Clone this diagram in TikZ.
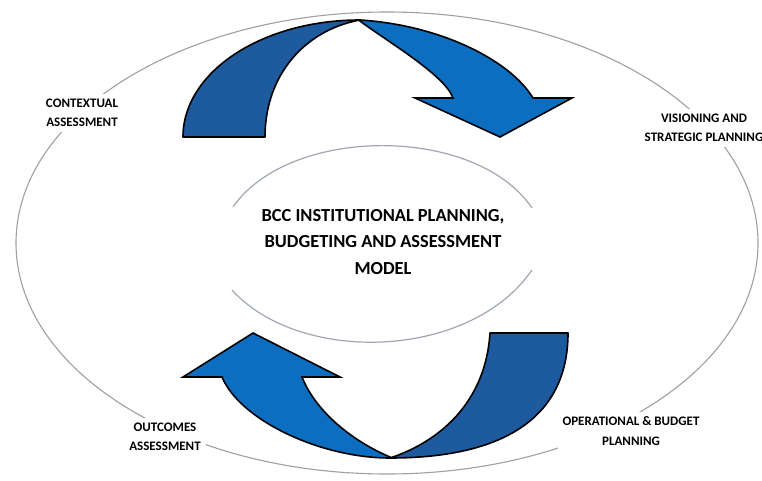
\documentclass[tikz,border=0pt]{standalone}
\usepackage{fontspec}
\setmainfont{Carlito}
\definecolor{arrowdark}{RGB}{30,90,158}
\definecolor{arrowlight}{RGB}{12,110,192}
\definecolor{ringgray}{RGB}{160,160,160}
\definecolor{innergray}{RGB}{160,166,178}
\tikzset{
  ring/.style={draw=ringgray, line width=1.1pt},
  innerarc/.style={draw=innergray, line width=1.2pt},
  bandDark/.style={fill=arrowdark, draw=black, line width=1.6pt, line join=round},
  bandLight/.style={fill=arrowlight, draw=black, line width=1.6pt, line join=miter},
  lbl/.style={fill=white, align=center, inner sep=5pt, font=\bfseries\fontsize{13}{19.5}\selectfont},
  titlelbl/.style={align=center, inner sep=2pt, font=\bfseries\fontsize{18.4}{26.5}\selectfont}
}
\begin{document}
\begin{tikzpicture}[x=1pt,y=-1pt]
\useasboundingbox (0,0) rectangle (762,481);
\fill[white] (0,0) rectangle (762,481);
% outer ring
\draw[ring] (387,243) ellipse [x radius=371pt, y radius=231pt];
% inner arcs
\draw[innerarc] (233,207) .. controls (290,125) and (476,125) .. (532,208);
\draw[innerarc] (232,290) .. controls (300,365) and (470,360) .. (532,270);
% labels
\node[lbl] (ctx) at (82,113) {CONTEXTUAL\\ASSESSMENT};
\node[lbl] (vis) at (704,128) {VISIONING AND\\STRATEGIC PLANNING};
\node[lbl] (ops) at (631,431) {OPERATIONAL \& BUDGET\\PLANNING};
\node[lbl] (out) at (165,437) {OUTCOMES\\ASSESSMENT};
\node[titlelbl] (title) at (383,242) {BCC INSTITUTIONAL PLANNING,\\BUDGETING AND ASSESSMENT\\MODEL};
% top curved arrow
\draw[bandLight] (360,20) .. controls (440,25) and (510,60) .. (533,98)
  -- (572,98) -- (500,137) -- (415,98) -- (453,98)
  .. controls (445,75) and (385,40) .. (360,21) -- cycle;
\draw[bandDark] (183,137) .. controls (183,72) and (262,20) .. (360,20)
  .. controls (305,30) and (265,75) .. (265,137) -- cycle;
% bottom curved arrow
\draw[bandLight] (390,458) .. controls (320,458) and (240,420) .. (222,377)
  -- (183,377) -- (253,333) -- (340,377) -- (302,377)
  .. controls (315,410) and (350,440) .. (390,457) -- cycle;
\draw[bandDark] (568,333) .. controls (568,420) and (500,458) .. (390,458)
  .. controls (430,445) and (485,410) .. (490,333) -- cycle;
\end{tikzpicture}
\end{document}
